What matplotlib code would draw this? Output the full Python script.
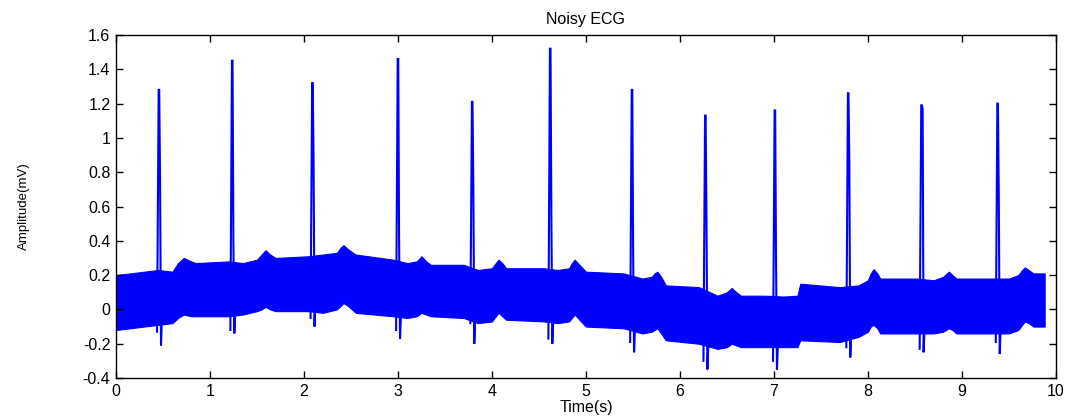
#!/usr/bin/env python3
"""Noisy ECG trace (MATLAB-style figure) rebuilt with matplotlib."""

import numpy as np
import matplotlib.pyplot as plt
from matplotlib.ticker import FormatStrFormatter

# noise band envelope (time s, upper / lower mV)
env_t = [0.00, 0.30, 0.45, 0.60, 0.66, 0.72, 0.80, 0.85, 1.20, 1.35, 1.50, 1.55,
         1.59, 1.64, 1.70, 2.05, 2.20, 2.35, 2.39, 2.42, 2.47, 2.55, 2.95, 3.10,
         3.20, 3.25, 3.30, 3.35, 3.70, 3.85, 4.00, 4.04, 4.07, 4.11, 4.15, 4.55,
         4.70, 4.82, 4.85, 4.88, 4.93, 5.00, 5.40, 5.60, 5.70, 5.73, 5.76, 5.80,
         5.85, 6.20, 6.40, 6.50, 6.55, 6.60, 6.65, 6.90, 7.10, 7.25, 7.28, 7.70,
         7.90, 8.00, 8.03, 8.06, 8.10, 8.13, 8.52, 8.70, 8.80, 8.86, 8.90, 8.94,
         9.33, 9.50, 9.60, 9.64, 9.67, 9.71, 9.76, 9.88]
env_hi = [0.20, 0.22, 0.23, 0.22, 0.27, 0.30, 0.28, 0.27, 0.28, 0.27, 0.29, 0.32,
          0.345, 0.32, 0.30, 0.31, 0.32, 0.33, 0.36, 0.375, 0.35, 0.32, 0.29, 0.27,
          0.28, 0.31, 0.28, 0.26, 0.26, 0.23, 0.24, 0.27, 0.29, 0.27, 0.24, 0.24,
          0.23, 0.24, 0.27, 0.29, 0.26, 0.22, 0.21, 0.18, 0.19, 0.21, 0.22, 0.19,
          0.14, 0.13, 0.08, 0.10, 0.125, 0.10, 0.08, 0.08, 0.075, 0.08, 0.15, 0.13,
          0.14, 0.17, 0.21, 0.235, 0.21, 0.18, 0.18, 0.17, 0.19, 0.22, 0.20, 0.18,
          0.18, 0.18, 0.20, 0.23, 0.245, 0.23, 0.21, 0.21]
env_lo = [-0.12, -0.10, -0.09, -0.08, -0.05, -0.03, -0.04, -0.04, -0.04, -0.03, -0.01, 0.00,
          0.015, 0.00, -0.01, -0.01, -0.02, 0.00, 0.02, 0.037, 0.02, -0.02, -0.04, -0.05,
          -0.04, -0.02, -0.03, -0.04, -0.05, -0.08, -0.07, -0.04, -0.02, -0.04, -0.06, -0.07,
          -0.08, -0.07, -0.05, -0.03, -0.06, -0.10, -0.11, -0.14, -0.13, -0.12, -0.11, -0.14,
          -0.18, -0.20, -0.23, -0.22, -0.20, -0.21, -0.22, -0.22, -0.22, -0.22, -0.18, -0.19,
          -0.16, -0.13, -0.10, -0.09, -0.11, -0.14, -0.14, -0.14, -0.13, -0.11, -0.12, -0.14,
          -0.14, -0.14, -0.12, -0.09, -0.07, -0.08, -0.10, -0.10]

# QRS complexes
beat_times = [0.457, 1.237, 2.09, 3.00, 3.79, 4.62, 5.49, 6.27, 7.01, 7.79, 8.57, 9.38]
q_vals = [-0.13, -0.12, -0.05, -0.12, -0.08, -0.17, -0.19, -0.30, -0.30, -0.22, -0.23, -0.19]
r_peaks = [1.28, 1.45, 1.32, 1.46, 1.21, 1.52, 1.28, 1.13, 1.16, 1.26, 1.19, 1.20]
shoulders = [0.75, 0.40, 0.88, 0.40, 0.70, 0.54, 0.33, 0.55, 0.31, 0.86, 1.17, 0.66]
s_vals = [-0.21, -0.14, -0.10, -0.17, -0.20, -0.20, -0.25, -0.35, -0.35, -0.28, -0.25, -0.26]

y_ticks = [-0.4, -0.2, 0, 0.2, 0.4, 0.6, 0.8, 1, 1.2, 1.4, 1.6]
x_ticks = list(range(11))

BLUE = '#0000ff'


def main():
    plt.rcParams['font.family'] = ['Liberation Sans', 'DejaVu Sans']

    fig = plt.figure(figsize=(10.68, 4.16), dpi=100)
    ax = fig.add_axes([0.1086, 0.0913, 0.8801, 0.8246])

    # dense noise band
    ax.fill_between(env_t, env_lo, env_hi, color=BLUE, linewidth=0.8,
                    edgecolor=BLUE)

    # QRS spikes
    for t, q, r, sh, s in zip(beat_times, q_vals, r_peaks, shoulders, s_vals):
        ts = [t - 0.02, t - 0.003, t + 0.003, t + 0.012, t + 0.022, t + 0.032]
        ys = [q, r, r, sh, s, (q + s) / 2 + 0.12]
        ax.plot(ts, ys, color=BLUE, linewidth=1.5, solid_joinstyle='miter')

    ax.set_xlim(0, 10)
    ax.set_ylim(-0.4, 1.6)
    ax.set_xticks(x_ticks)
    ax.set_yticks(y_ticks)
    ax.yaxis.set_major_formatter(FormatStrFormatter('%g'))
    ax.tick_params(direction='in', top=True, right=True, length=5,
                   width=1, labelsize=11.5, pad=4)
    for sp in ax.spines.values():
        sp.set_linewidth(1.0)

    ax.set_title('Noisy ECG', fontsize=11.5, pad=8)
    ax.set_xlabel('Time(s)', fontsize=11.5, labelpad=1)
    ax.set_ylabel('Amplitude(mV)', fontsize=9.5, labelpad=38)

    fig.savefig('out.png', dpi=100, facecolor='white')
    plt.close(fig)


if __name__ == "__main__":
    main()
